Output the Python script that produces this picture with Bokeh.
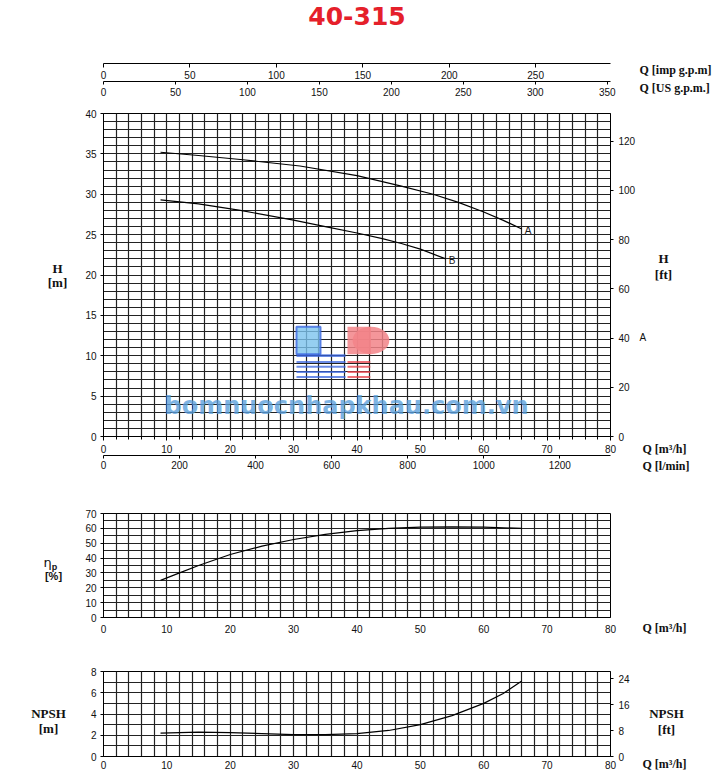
from bokeh.plotting import figure
from bokeh.layouts import column, row
from bokeh.models import Range1d, LinearAxis, SingleIntervalTicker, Grid
from bokeh.core.properties import value
from bokeh.embed import file_html
from bokeh.resources import INLINE

# ---------------- data ----------------
TITLE = "40-315"
Q_MAX = 80
H_MAX = 40
ETA_MAX = 70
NPSH_MAX = 8

curve_names = ["A", "B"]
q_a = [9, 15, 21.6, 31, 40, 47, 52, 56, 60, 63, 66]
h_a = [35.2, 34.8, 34.3, 33.5, 32.3, 31.0, 30.0, 29.0, 27.8, 26.8, 25.7]
q_b = [9, 15, 21.6, 30, 35, 40, 44, 47, 50, 54]
h_b = [29.3, 28.8, 28.0, 26.8, 26.0, 25.2, 24.5, 23.9, 23.2, 22.0]

q_eta = [9, 12, 15, 20, 25, 30, 35, 40, 45, 50, 55, 60, 66]
eta = [25, 30, 35, 42.4, 48, 52.5, 56, 58.5, 60, 60.8, 61, 60.8, 60]

q_npsh = [9, 15, 20, 25, 30, 35, 40, 45, 50, 55, 60, 63, 66]
npsh = [2.2, 2.3, 2.25, 2.15, 2.05, 2.05, 2.15, 2.45, 3.0, 3.85, 5.0, 5.9, 7.1]

IMP_PER_M3H = 3.66619
USG_PER_M3H = 4.40287
LPM_PER_M3H = 1000.0 / 60.0
FT_PER_M = 3.28084

WATERMARK = "bomnuocnhapkhau.com.vn"

# ---------------- layout constants ----------------
PAGE_H = 772
SIDE_L = 78      # left text column
B_LEFT = 25      # left axis border
W_FRAME = 507
B_RIGHT = 26     # right axis border
SIDE_R = 78      # right text column
X_RIGHT0 = SIDE_L + B_LEFT + W_FRAME + B_RIGHT   # left edge of right text column
TICK_FONT = "Liberation Sans"
LBL_FONT = "Liberation Serif"
Q_SIZE = "12px"


def make_fig(frame_h, y_max, top, bottom):
    p = figure(frame_width=W_FRAME, frame_height=frame_h,
               x_range=Range1d(0, Q_MAX), y_range=Range1d(0, y_max),
               min_border_left=B_LEFT, min_border_right=B_RIGHT,
               min_border_top=top, min_border_bottom=bottom,
               x_axis_location=None, y_axis_location=None,
               output_backend="svg", toolbar_location=None, tools="")
    p.grid.visible = False
    p.background_fill_color = "white"
    p.border_fill_color = "white"
    p.outline_line_color = "black"
    p.outline_line_width = 1
    return p


def side_fig(width, height):
    s = figure(width=width, height=height, x_range=Range1d(0, width),
               y_range=Range1d(height, 0), min_border=0,
               x_axis_location=None, y_axis_location=None,
               output_backend="svg", toolbar_location=None, tools="")
    s.grid.visible = False
    s.outline_line_color = None
    s.background_fill_color = "white"
    s.border_fill_color = "white"
    return s


def add_axis(p, side, interval, range_name=None, tick_out=3, standoff=4,
             minor=0, minor_out=0):
    kw = {}
    if range_name:
        if side in ("left", "right"):
            kw["y_range_name"] = range_name
        else:
            kw["x_range_name"] = range_name
    ax = LinearAxis(ticker=SingleIntervalTicker(interval=interval, num_minor_ticks=minor), **kw)
    ax.axis_line_color = "black"
    ax.axis_line_width = 1
    ax.major_tick_in = 0
    ax.major_tick_out = tick_out
    ax.major_tick_line_color = "black" if tick_out else None
    ax.minor_tick_in = 0
    ax.minor_tick_out = minor_out
    ax.minor_tick_line_color = "black" if minor_out else None
    ax.major_label_standoff = standoff
    ax.major_label_text_font = TICK_FONT
    ax.major_label_text_font_size = "10px"
    ax.major_label_text_color = "#111111"
    p.add_layout(ax, side)
    return ax


def add_grid(p, dim, interval):
    g = Grid(dimension=dim, ticker=SingleIntervalTicker(interval=interval, num_minor_ticks=0))
    g.grid_line_color = "#222222"
    g.grid_line_width = 1.2
    p.add_layout(g)


def add_text(s, x, y, text, size="13px", font=LBL_FONT, style="bold", align="center"):
    s.text(x=[x], y=[y], text=[text], text_align=align, text_baseline="middle",
           text_font=value(font), text_font_size=size, text_font_style=style,
           text_color="#111111")


# ---------------- title + top flow axes ----------------
fa = make_fig(63, 63, 0, 38)
fa.outline_line_color = None
fa.extra_x_ranges = {"imp": Range1d(0, Q_MAX * IMP_PER_M3H),
                     "usg": Range1d(0, Q_MAX * USG_PER_M3H)}
add_axis(fa, "below", 50, "imp", tick_out=4, standoff=3)
add_axis(fa, "below", 50, "usg", tick_out=3, standoff=3)
fa.text(x=[Q_MAX / 2], y=[48], text=[TITLE], text_align="center", text_baseline="middle",
        text_font=value("DejaVu Sans"), text_font_style="bold", text_font_size="25px",
        text_color="#e5202a")

# ---------------- main H-Q chart ----------------
fb = make_fig(323, H_MAX, 12, 50)
fb.extra_y_ranges = {"ft": Range1d(0, H_MAX * FT_PER_M)}
fb.extra_x_ranges = {"lpm": Range1d(0, Q_MAX * LPM_PER_M3H)}
add_grid(fb, 0, 2)
add_grid(fb, 1, 1)
add_axis(fb, "left", 5, tick_out=3, standoff=4)
add_axis(fb, "right", 20, "ft", tick_out=3, standoff=5)
add_axis(fb, "below", 10, tick_out=4, standoff=4, minor=5, minor_out=3)
add_axis(fb, "below", 200, "lpm", tick_out=3, standoff=2)

# watermark logo (semi-transparent, over the grid)
fb.quad(left=[30.45], right=[34.24], bottom=[10.2], top=[13.6],
        fill_color="#7cc3ee", fill_alpha=0.8, line_color="#3a66e0", line_width=2, line_alpha=0.8)
fb.quad(left=[30.45] * 5, right=[38.19] * 5,
        bottom=[9.85, 9.1, 8.5, 7.85, 7.25], top=[10.2, 9.35, 8.75, 8.1, 7.5],
        fill_color="#3a66e0", fill_alpha=0.75, line_color=None)
fb.ellipse(x=[42.2], y=[11.9], width=[5.8], height=[3.4],
           fill_color="#f28488", fill_alpha=0.85, line_color=None)
fb.quad(left=[38.5], right=[42.2], bottom=[10.2], top=[13.6],
        fill_color="#f28488", fill_alpha=0.85, line_color=None)
fb.quad(left=[38.5] * 4, right=[42.1] * 4,
        bottom=[9.1, 8.5, 7.85, 7.25], top=[9.35, 8.75, 8.1, 7.5],
        fill_color="#e8404a", fill_alpha=0.75, line_color=None)
fb.text(x=[38.35], y=[3.72], text=[WATERMARK], text_align="center", text_baseline="middle",
        text_font=value("DejaVu Sans"), text_font_style="bold", text_font_size="24px",
        text_color="#5b9fdc", text_alpha=0.8)

fb.line(q_a, h_a, line_color="black", line_width=1.2)
fb.line(q_b, h_b, line_color="black", line_width=1.2)
fb.text(x=[q_a[-1], q_b[-1]], y=[h_a[-1], h_b[-1]], text=curve_names,
        x_offset=3, y_offset=2, text_align="left", text_baseline="middle",
        text_font=value(TICK_FONT), text_font_size="10px", text_color="#1a1a1a")

# ---------------- efficiency chart ----------------
fc = make_fig(104, ETA_MAX, 27, 44)
add_grid(fc, 0, 2)
add_grid(fc, 1, 5)
add_axis(fc, "left", 10, tick_out=3, standoff=4)
add_axis(fc, "below", 10, tick_out=0, standoff=7)
fc.line(q_eta, eta, line_color="black", line_width=1.2)

# ---------------- NPSH chart ----------------
fd = make_fig(85, NPSH_MAX, 10, 16)
fd.extra_y_ranges = {"ft": Range1d(0, NPSH_MAX * FT_PER_M)}
add_grid(fd, 0, 2)
add_grid(fd, 1, 1)
add_axis(fd, "left", 2, tick_out=3, standoff=4)
add_axis(fd, "right", 8, "ft", tick_out=3, standoff=5)
add_axis(fd, "below", 10, tick_out=0, standoff=4)
fd.line(q_npsh, npsh, line_color="black", line_width=1.2)

# ---------------- side text columns (page pixel positions) ----------------
left = side_fig(SIDE_L, PAGE_H)
add_text(left, 57, 268, "H")
add_text(left, 57, 282, "[m]")
add_text(left, 47, 562, "η", size="13px", font="DejaVu Sans", style="normal")
add_text(left, 54, 566, "p", size="9px", font=TICK_FONT, style="bold")
add_text(left, 53, 575, "[%]", size="11px", font=TICK_FONT, style="bold")
add_text(left, 48, 713, "NPSH")
add_text(left, 48, 728, "[m]")

right = side_fig(SIDE_R, PAGE_H)
rx = lambda px: px - X_RIGHT0
add_text(right, rx(637), 69, "Q [imp g.p.m]", size=Q_SIZE, align="left")
add_text(right, rx(637), 87, "Q [US g.p.m.]", size=Q_SIZE, align="left")
add_text(right, rx(661), 258, "H")
add_text(right, rx(661), 274, "[ft]")
add_text(right, rx(637), 337, "A", size="10px", font=TICK_FONT, style="normal", align="left")
add_text(right, rx(640), 448, "Q [m³/h]", size=Q_SIZE, align="left")
add_text(right, rx(640), 465, "Q [l/min]", size=Q_SIZE, align="left")
add_text(right, rx(640), 627, "Q [m³/h]", size=Q_SIZE, align="left")
add_text(right, rx(664), 713, "NPSH")
add_text(right, rx(664), 729, "[ft]")
add_text(right, rx(640), 763, "Q [m³/h]", size=Q_SIZE, align="left")

charts = column(fa, fb, fc, fd, spacing=0)
layout = row(left, charts, right, spacing=0)

with open("out.html", "w") as f:
    f.write(file_html(layout, INLINE, title=TITLE))
